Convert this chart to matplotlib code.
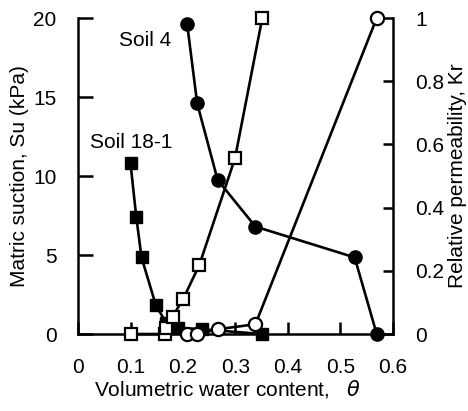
import matplotlib
matplotlib.use('Agg')
import matplotlib.pyplot as plt
import numpy as np

plt.rcParams['font.family'] = ['Liberation Sans', 'DejaVu Sans']
font = 15

# Soil 4
soil4_theta_su = [0.208, 0.227, 0.266, 0.338, 0.527, 0.569]
soil4_su = [19.6, 14.6, 9.75, 6.8, 4.85, 0.0]
soil4_theta_kr = [0.208, 0.227, 0.266, 0.338, 0.569]
soil4_kr = [0.0, 0.0, 0.015, 0.031, 1.0]

# Soil 18-1
soil18_theta_su = [0.100, 0.111, 0.121, 0.148, 0.168, 0.19, 0.237, 0.35]
soil18_su = [10.8, 7.4, 4.85, 1.85, 0.7, 0.4, 0.3, 0.0]
soil18_theta_kr = [0.100, 0.165, 0.167, 0.180, 0.200, 0.231, 0.299, 0.351]
soil18_kr = [0.0, 0.0, 0.018, 0.055, 0.11, 0.218, 0.556, 1.0]

fig = plt.figure(figsize=(4.68, 4.11), dpi=100)
ax = fig.add_axes([0.1667, 0.1873, 0.673, 0.7687])
ax2 = ax.twinx()

lw = 1.9
ms = 9.5
ax.plot(soil4_theta_su, soil4_su, '-o', color='k', lw=lw, ms=ms, mfc='k', mec='k', clip_on=False, zorder=3)
ax.plot(soil18_theta_su, soil18_su, '-s', color='k', lw=lw, ms=ms - 0.5, mfc='k', mec='k', clip_on=False, zorder=3)
ax2.plot(soil4_theta_kr, soil4_kr, '-o', color='k', lw=lw, ms=ms, mfc='w', mec='k', mew=1.6, clip_on=False, zorder=4)
ax2.plot(soil18_theta_kr, soil18_kr, '-s', color='k', lw=lw, ms=ms - 0.5, mfc='w', mec='k', mew=1.6, clip_on=False, zorder=4)

ax.set_xlim(0, 0.6)
ax.set_ylim(0, 20)
ax2.set_ylim(0, 1)
ax.set_xticks([0, 0.1, 0.2, 0.3, 0.4, 0.5, 0.6])
ax.set_xticklabels(['0', '0.1', '0.2', '0.3', '0.4', '0.5', '0.6'])
ax.set_yticks([0, 5, 10, 15, 20])
ax2.set_yticks([0, 0.2, 0.4, 0.6, 0.8, 1.0])
ax2.set_yticklabels(['0', '0.2', '0.4', '0.6', '0.8', '1'])

for a in (ax, ax2):
    a.spines['top'].set_visible(False)
    for s in a.spines.values():
        s.set_linewidth(1.8)
ax.spines['right'].set_visible(False)
ax2.spines['left'].set_visible(False)
ax2.spines['bottom'].set_visible(False)

ax.tick_params(axis='y', direction='in', length=11, width=1.8, labelsize=font, pad=15.5)
ax.tick_params(axis='x', direction='in', length=9, width=1.8, labelsize=font, pad=17)
ax2.tick_params(axis='y', direction='in', length=7.5, width=1.8, labelsize=font, pad=16)

ax.set_xlabel(r'Volumetric water content,   $\theta$', fontsize=font)
ax.xaxis.set_label_coords(0.475, -0.138)
ax.set_ylabel('Matric suction, Su (kPa)', fontsize=font)
ax.yaxis.set_label_coords(-0.155, 0.5)
ax2.set_ylabel('Relative permeability, Kr', fontsize=font)
ax2.yaxis.set_label_coords(1.176, 0.5)

ax.text(0.127, 18.6, 'Soil 4', fontsize=font, ha='center', va='center')
ax.text(0.101, 12.1, 'Soil 18-1', fontsize=font, ha='center', va='center')

fig.savefig('out.png', dpi=100)
